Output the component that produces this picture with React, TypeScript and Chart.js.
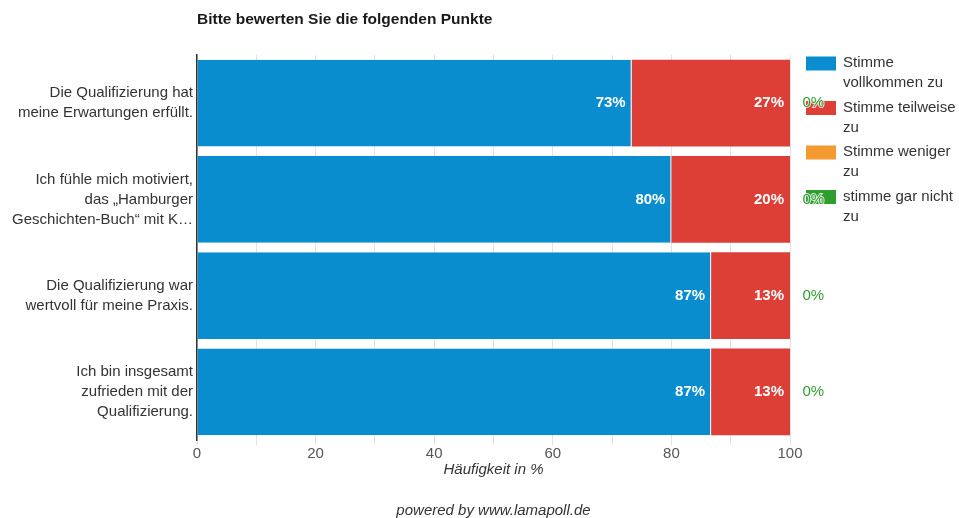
import React, { useEffect, useRef } from "react";
import { Chart, registerables } from "chart.js";

Chart.register(...registerables);

const chartTitle = "Bitte bewerten Sie die folgenden Punkte";
const axisTitle = "Häufigkeit in %";
const footerText = "powered by www.lamapoll.de";

const categories: string[][] = [
  ["Die Qualifizierung hat", "meine Erwartungen erfüllt."],
  ["Ich fühle mich motiviert,", "das „Hamburger", "Geschichten-Buch“ mit K…"],
  ["Die Qualifizierung war", "wertvoll für meine Praxis."],
  ["Ich bin insgesamt", "zufrieden mit der", "Qualifizierung."],
];

const seriesNames = [
  "Stimme vollkommen zu",
  "Stimme teilweise zu",
  "Stimme weniger zu",
  "stimme gar nicht zu",
];

const vollkommen = [73.3, 80, 86.7, 86.7];
const teilweise = [26.7, 20, 13.3, 13.3];
const weniger = [0, 0, 0, 0];
const garNicht = [0, 0, 0, 0];

const xTickLabels = [0, 20, 40, 60, 80, 100];

const seriesColors = ["#0a8dcf", "#dd3f36", "#f39a31", "#2f9e2f"];

const FONT = "'Liberation Sans', Arial, Helvetica, sans-serif";

function wrapText(ctx: CanvasRenderingContext2D, text: string, maxW: number): string[] {
  const words = text.split(" ");
  const lines: string[] = [];
  let cur = "";
  for (const w of words) {
    const test = cur ? cur + " " + w : w;
    if (ctx.measureText(test).width > maxW && cur) {
      lines.push(cur);
      cur = w;
    } else {
      cur = test;
    }
  }
  if (cur) lines.push(cur);
  return lines;
}

const decorPlugin = {
  id: "decor",
  afterDraw(chart: any) {
    const ctx: CanvasRenderingContext2D = chart.ctx;
    const area = chart.chartArea;
    ctx.save();

    // title
    ctx.font = `bold 15.5px ${FONT}`;
    ctx.fillStyle = "#1a1a1a";
    ctx.textAlign = "left";
    ctx.textBaseline = "middle";
    ctx.fillText(chartTitle, area.left, 20);

    // legend
    const legX = 806;
    const textX = 843;
    let y = 63;
    ctx.font = `15px ${FONT}`;
    seriesNames.forEach((name, i) => {
      const lines = wrapText(ctx, name, 959 - textX - 1);
      ctx.fillStyle = seriesColors[i];
      ctx.fillRect(legX, y - 6.5, 30, 14);
      ctx.fillStyle = "#333";
      ctx.textAlign = "left";
      ctx.textBaseline = "middle";
      lines.forEach((ln, k) => ctx.fillText(ln, textX, y + k * 20));
      y += lines.length * 20 + 4.5;
    });

    // data labels
    ctx.textBaseline = "middle";
    chart.data.datasets.forEach((ds: any, di: number) => {
      const meta = chart.getDatasetMeta(di);
      meta.data.forEach((el: any, j: number) => {
        const v = ds.data[j];
        const label = Math.round(v) + "%";
        if (di <= 1 && v > 0) {
          ctx.font = `bold 15px ${FONT}`;
          ctx.textAlign = "right";
          ctx.fillStyle = "#ffffff";
          ctx.fillText(label, el.x - 6, el.y);
        } else if (di === 3) {
          ctx.font = `15px ${FONT}`;
          ctx.textAlign = "left";
          ctx.lineWidth = 2;
          ctx.strokeStyle = "rgba(255,255,255,0.8)";
          ctx.strokeText(label, el.x + 12, el.y);
          ctx.fillStyle = seriesColors[3];
          ctx.fillText(label, el.x + 12, el.y);
        }
      });
    });

    // footer
    ctx.font = `italic 15px ${FONT}`;
    ctx.fillStyle = "#333";
    ctx.textAlign = "center";
    ctx.textBaseline = "middle";
    ctx.fillText(footerText, (area.left + area.right) / 2, 511);

    ctx.restore();
  },
};

export default function App() {
  const ref = useRef<HTMLCanvasElement | null>(null);

  useEffect(() => {
    if (!ref.current) return;
    const allSeries = [vollkommen, teilweise, weniger, garNicht];
    const chart = new Chart(ref.current, {
      type: "bar",
      data: {
        labels: categories,
        datasets: allSeries.map((d, i) => ({
          label: seriesNames[i],
          data: d,
          backgroundColor: seriesColors[i],
          borderColor: "rgba(255,255,255,0.7)",
          borderWidth: i === 0 ? { left: 0, top: 0, bottom: 0, right: 1 } : 0,
          barPercentage: 0.9,
          categoryPercentage: 1,
          minBarLength: i === 3 ? 1 : 0,
        })),
      },
      options: {
        indexAxis: "y",
        animation: false,
        responsive: false,
        maintainAspectRatio: false,
        layout: { padding: { left: 0, top: 55, right: 169, bottom: 39 } },
        plugins: {
          legend: { display: false },
          title: { display: false },
          tooltip: { enabled: false },
        },
        scales: {
          x: {
            stacked: true,
            min: 0,
            max: 100,
            ticks: {
              stepSize: 10,
              autoSkip: false,
              maxRotation: 0,
              padding: 0,
              color: "#555",
              font: { family: FONT, size: 15 },
              callback: (v: any) => (xTickLabels.includes(Number(v)) ? String(v) : ""),
            },
            grid: { color: "#e3e3e3", tickLength: 5, drawTicks: true },
            border: { display: false },
            title: {
              display: true,
              text: axisTitle,
              color: "#333",
              font: { family: FONT, size: 15, style: "italic" },
              padding: { top: 0, bottom: 0 },
            },
            afterFit: (s: any) => {
              s.height = 39;
            },
          },
          y: {
            stacked: true,
            ticks: {
              padding: 4,
              color: "#333",
              font: { family: FONT, size: 15, lineHeight: 20 / 15 },
            },
            grid: { display: true, color: "rgba(0,0,0,0)", drawTicks: false },
            border: { display: true, color: "#333", width: 1.5 },
            afterFit: (s: any) => {
              s.width = 197;
            },
          },
        },
      },
      plugins: [decorPlugin],
    } as any);
    return () => chart.destroy();
  }, []);

  return (
    <div style={{ position: "fixed", left: 0, top: 0, width: 959, height: 518, background: "#fff" }}>
      <canvas ref={ref} width={959} height={518} style={{ display: "block" }} />
    </div>
  );
}
